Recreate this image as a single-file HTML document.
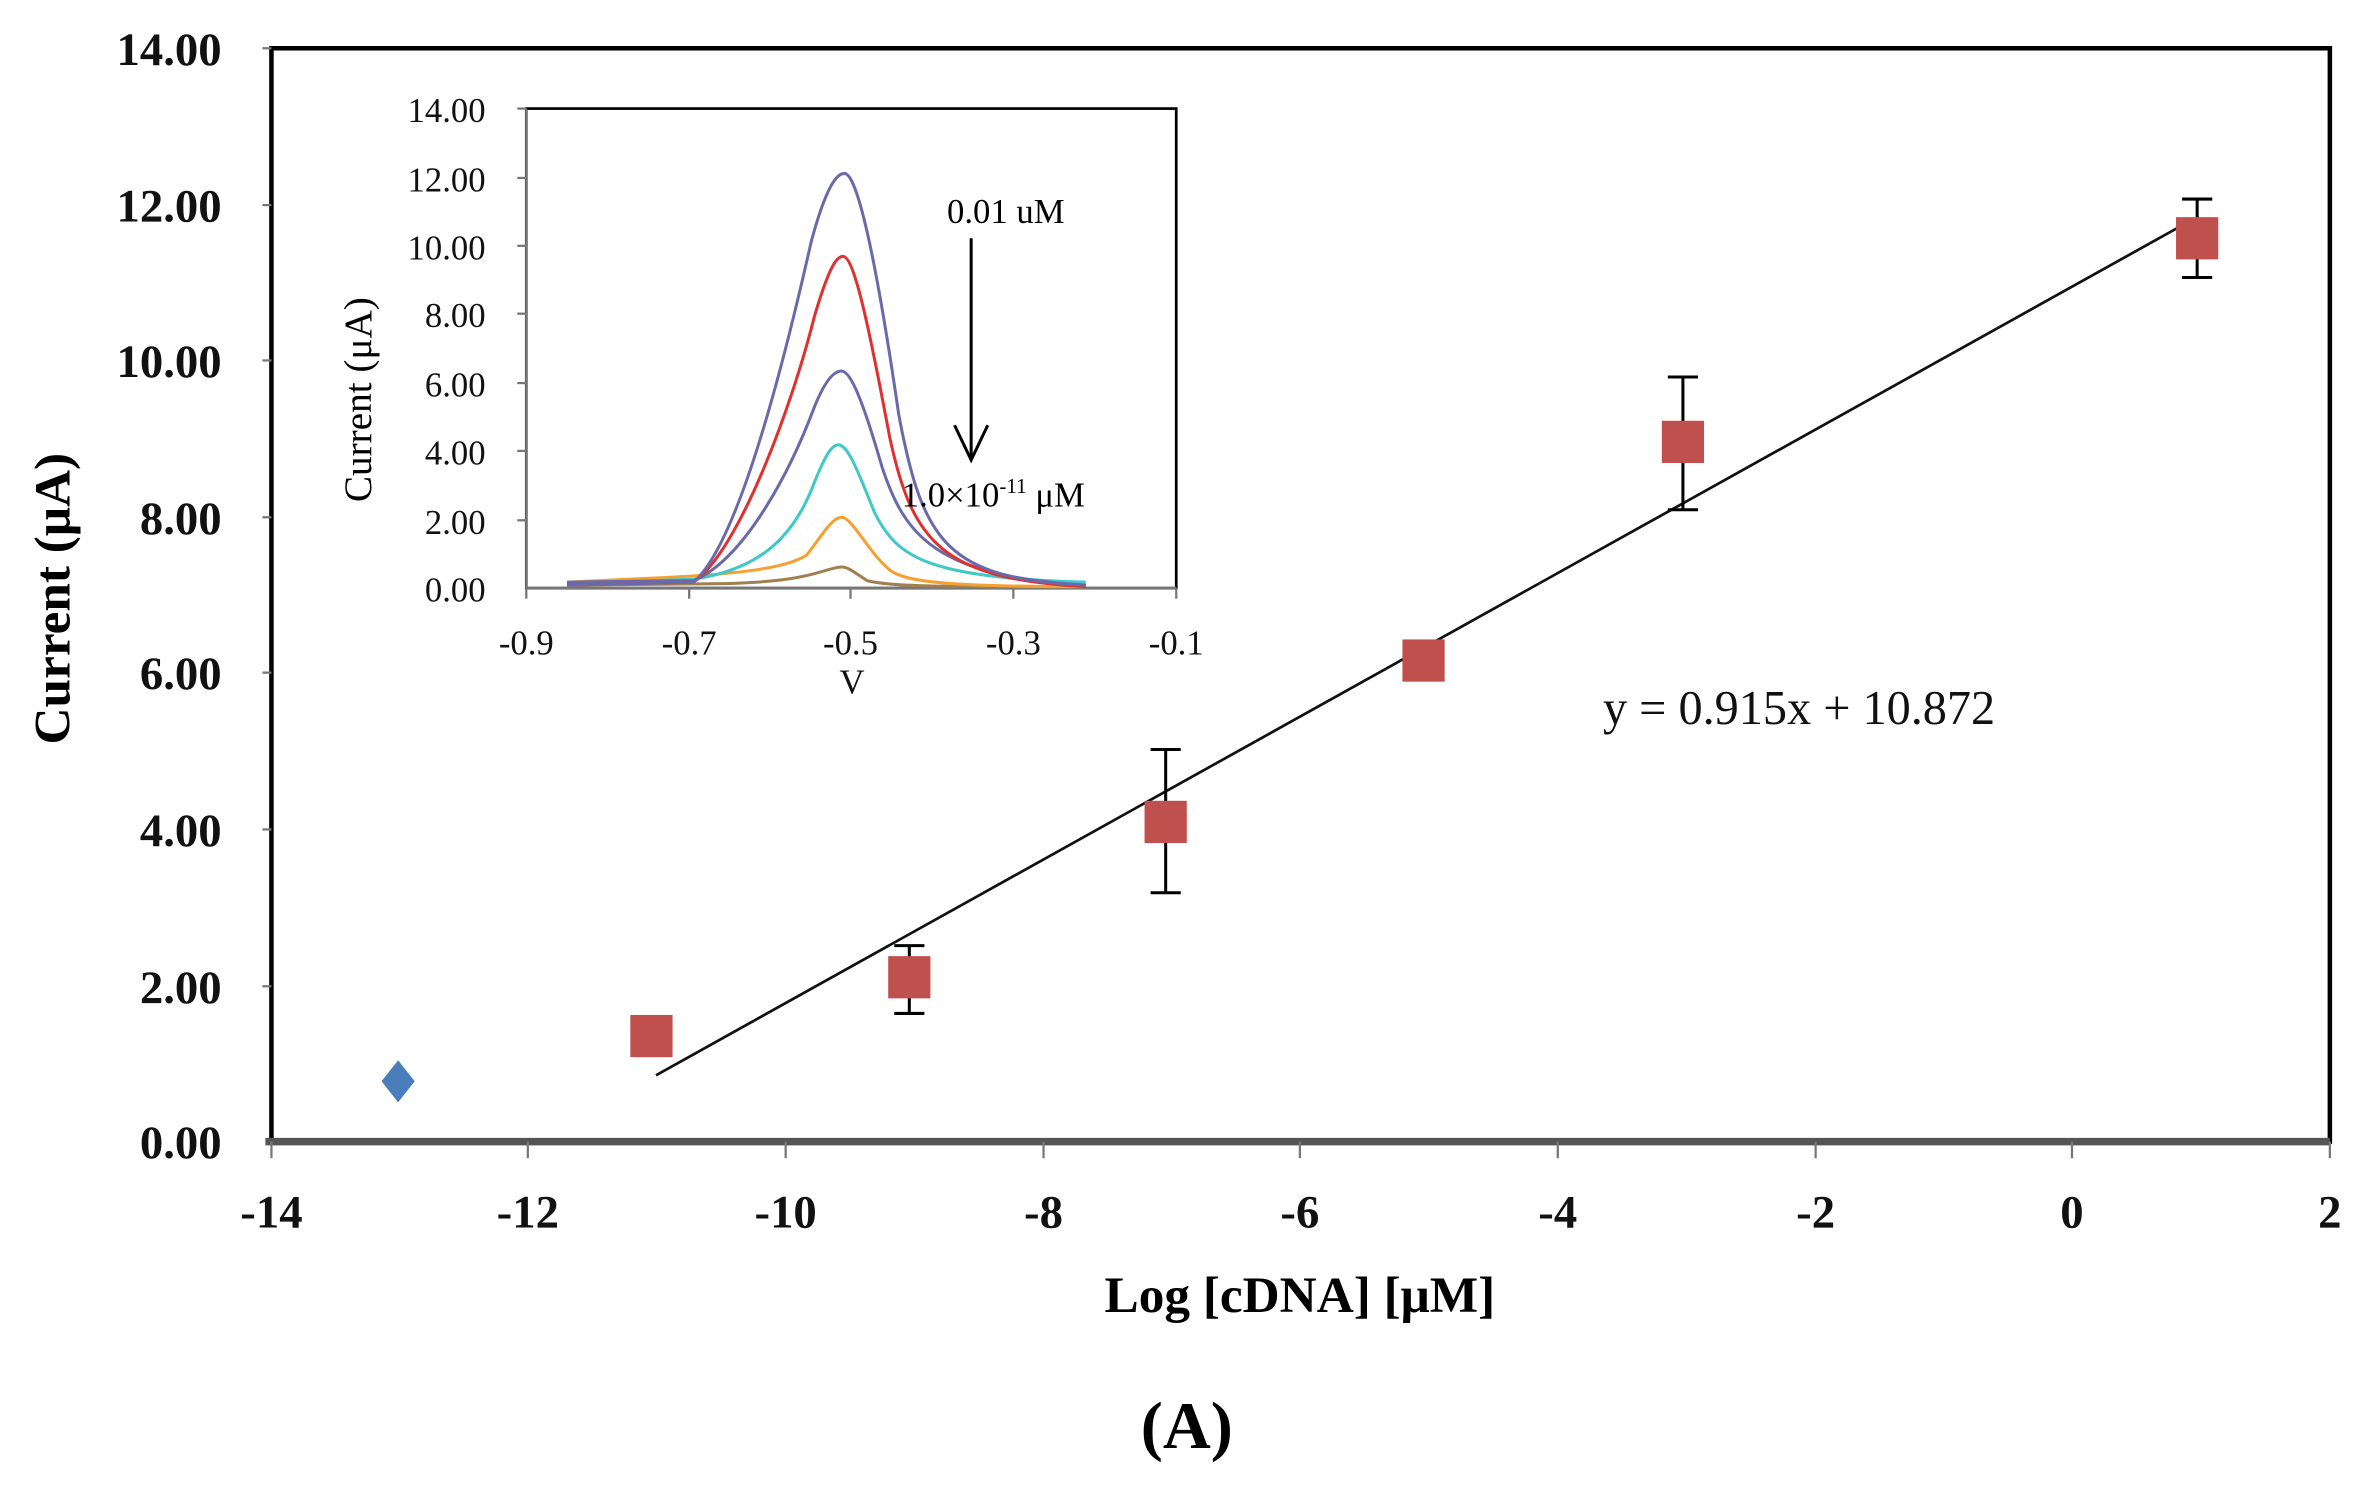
<!DOCTYPE html>
<html><head><meta charset="utf-8"><style>html,body{margin:0;padding:0;background:#fff}svg{display:block}</style></head><body>
<svg width="2357" height="1490" viewBox="0 0 1563 988" preserveAspectRatio="none" xmlns="http://www.w3.org/2000/svg" font-family="Liberation Serif, serif">
<rect width="1563" height="988" fill="#fff"/>
<rect x="180" y="32" width="1365" height="725" fill="none" stroke="#000" stroke-width="3"/>
<line x1="176" y1="757" x2="1545" y2="757" stroke="#555" stroke-width="5"/>
<g stroke="#777" stroke-width="1.5">
<line x1="174" y1="32" x2="180" y2="32"/><line x1="174" y1="136" x2="180" y2="136"/><line x1="174" y1="239" x2="180" y2="239"/><line x1="174" y1="343" x2="180" y2="343"/><line x1="174" y1="446" x2="180" y2="446"/><line x1="174" y1="550" x2="180" y2="550"/><line x1="174" y1="654" x2="180" y2="654"/>
<line x1="180" y1="757" x2="180" y2="768"/><line x1="350" y1="757" x2="350" y2="768"/><line x1="521" y1="757" x2="521" y2="768"/><line x1="692" y1="757" x2="692" y2="768"/><line x1="862" y1="757" x2="862" y2="768"/><line x1="1033" y1="757" x2="1033" y2="768"/><line x1="1204" y1="757" x2="1204" y2="768"/><line x1="1374" y1="757" x2="1374" y2="768"/><line x1="1545" y1="757" x2="1545" y2="768"/>
</g>
<g font-size="31" font-weight="bold" text-anchor="end" fill="#111">
<text x="147" y="43">14.00</text><text x="147" y="147">12.00</text><text x="147" y="250">10.00</text><text x="147" y="354">8.00</text><text x="147" y="457">6.00</text><text x="147" y="561">4.00</text><text x="147" y="665">2.00</text><text x="147" y="768">0.00</text>
</g>
<g font-size="31" font-weight="bold" text-anchor="middle" fill="#111">
<text x="180" y="814">-14</text><text x="350" y="814">-12</text><text x="521" y="814">-10</text><text x="692" y="814">-8</text><text x="862" y="814">-6</text><text x="1033" y="814">-4</text><text x="1204" y="814">-2</text><text x="1374" y="814">0</text><text x="1545" y="814">2</text>
</g>
<text x="862" y="870" font-size="34" font-weight="bold" text-anchor="middle">Log [cDNA] [μM]</text>
<text transform="translate(46,397) rotate(-90)" font-size="34" font-weight="bold" text-anchor="middle">Current (μA)</text>
<text x="787" y="960" font-size="44" font-weight="bold" text-anchor="middle">(A)</text>
<line x1="435" y1="713" x2="1455" y2="145" stroke="#111" stroke-width="1.8"/>
<g stroke="#000" stroke-width="2">
<line x1="603" y1="627" x2="603" y2="672"/><line x1="593" y1="627" x2="613" y2="627"/><line x1="593" y1="672" x2="613" y2="672"/>
<line x1="773" y1="497" x2="773" y2="592"/><line x1="763" y1="497" x2="783" y2="497"/><line x1="763" y1="592" x2="783" y2="592"/>
<line x1="1116" y1="250" x2="1116" y2="338"/><line x1="1106" y1="250" x2="1126" y2="250"/><line x1="1106" y1="338" x2="1126" y2="338"/>
<line x1="1457" y1="132" x2="1457" y2="184"/><line x1="1447" y1="132" x2="1467" y2="132"/><line x1="1447" y1="184" x2="1467" y2="184"/>
</g>
<polygon points="264,703 275,717 264,731 253,717" fill="#4a7ebb"/>
<g fill="#c0504d">
<rect x="418" y="673" width="28" height="28"/><rect x="589" y="634" width="28" height="28"/><rect x="759" y="531" width="28" height="28"/><rect x="930" y="424" width="28" height="28"/><rect x="1102" y="279" width="28" height="28"/><rect x="1443" y="144" width="28" height="28"/>
</g>
<text x="1063" y="480" font-size="32" fill="#111">y = 0.915x + 10.872</text>
<rect x="349" y="72" width="431" height="318" fill="#fff" stroke="#000" stroke-width="1.8"/>
<line x1="349" y1="390" x2="780" y2="390" stroke="#777" stroke-width="2"/>
<line x1="349" y1="72" x2="349" y2="390" stroke="#777" stroke-width="1.5"/>
<g stroke="#777" stroke-width="1.5">
<line x1="343" y1="72" x2="349" y2="72"/><line x1="343" y1="118" x2="349" y2="118"/><line x1="343" y1="163" x2="349" y2="163"/><line x1="343" y1="208" x2="349" y2="208"/><line x1="343" y1="254" x2="349" y2="254"/><line x1="343" y1="299" x2="349" y2="299"/><line x1="343" y1="345" x2="349" y2="345"/>
<line x1="349" y1="390" x2="349" y2="397"/><line x1="457" y1="390" x2="457" y2="397"/><line x1="564" y1="390" x2="564" y2="397"/><line x1="672" y1="390" x2="672" y2="397"/><line x1="780" y1="390" x2="780" y2="397"/>
</g>
<g font-size="23" text-anchor="end" fill="#111">
<text x="322" y="81">14.00</text><text x="322" y="127">12.00</text><text x="322" y="172">10.00</text><text x="322" y="217">8.00</text><text x="322" y="263">6.00</text><text x="322" y="308">4.00</text><text x="322" y="354">2.00</text><text x="322" y="399">0.00</text>
</g>
<g font-size="23" text-anchor="middle" fill="#111">
<text x="349" y="434">-0.9</text><text x="457" y="434">-0.7</text><text x="564" y="434">-0.5</text><text x="672" y="434">-0.3</text><text x="780" y="434">-0.1</text>
<text x="565" y="460">V</text>
</g>
<text transform="translate(246,265) rotate(-90)" font-size="26" text-anchor="middle">Current (μA)</text>
<g fill="none" stroke-width="2">
<path d="M376,388 L480,387 C520,386 535,382 545,379 C552,377 555,376 558,376 C563,376 567,380 575,385 C590,389 620,389 720,389" stroke="#a08050"/>
<path d="M376,386 L440,383 C480,381 520,378 535,368 C545,355 552,343 558,343 C565,343 575,365 590,378 C600,386 630,389 720,389" stroke="#f5a030"/>
<path d="M376,387 L460,384 C500,378 525,360 540,320 C548,300 552,295 556,295 C562,295 568,310 580,340 C595,370 615,383 720,386" stroke="#40c8c8"/>
<path d="M376,386 L460,385 C495,370 525,310 540,270 C548,250 554,246 558,246 C564,246 572,265 585,310 C600,355 620,382 720,388" stroke="#6a6aaa"/>
<path d="M376,388 L460,386 C490,365 525,270 540,210 C550,176 555,170 559,170 C566,170 575,210 590,290 C605,360 625,384 720,389" stroke="#e03030"/>
<path d="M376,388 L460,386 C490,360 520,240 538,160 C548,123 555,115 560,115 C568,115 580,165 596,275 C612,360 628,384 720,388" stroke="#6a6aaa"/>
</g>
<line x1="644" y1="158" x2="644" y2="303" stroke="#000" stroke-width="2"/>
<polyline points="633,282 644,305 655,282" fill="none" stroke="#000" stroke-width="2"/>
<text x="628" y="148" font-size="23">0.01 uM</text>
<text x="598" y="336" font-size="23">1.0×10<tspan dy="-9" font-size="14">-11</tspan><tspan dy="9"> μM</tspan></text>
</svg>
</body></html>
